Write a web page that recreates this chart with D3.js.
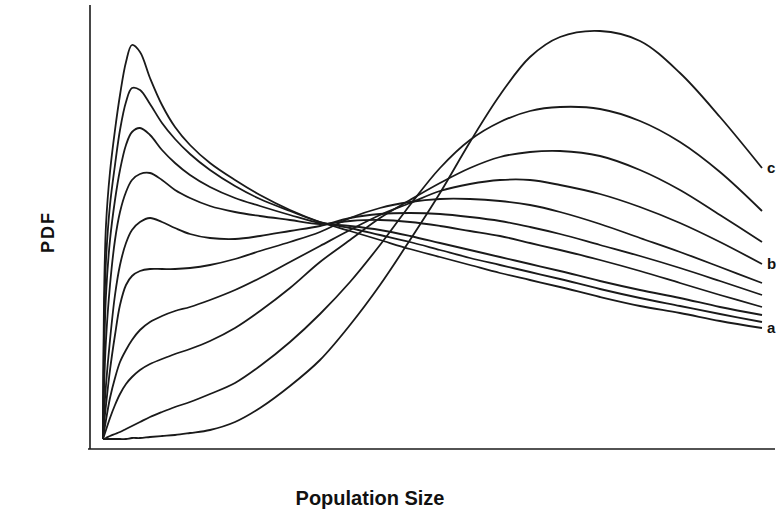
<!DOCTYPE html>
<html>
<head>
<meta charset="utf-8">
<script src="https://cdn.jsdelivr.net/npm/d3@7"></script>
<style>
  html, body { margin: 0; padding: 0; background: #fff; }
  svg { display: block; }
  .curve { fill: none; stroke: #1a1a1a; stroke-width: 1.8; }
  .axis-line { stroke: #1a1a1a; stroke-width: 1.6; }
  .title { font-family: "Liberation Sans", Arial, sans-serif; font-weight: bold; fill: #111; }
</style>
</head>
<body>
<div id="chart"></div>
<script>
// population size grid shared by every curve
const popSize = [1.3, 1.4, 1.6, 2.0, 2.5, 3.0, 3.6, 4.2, 5.0, 6.0, 7.2, 8.5, 10.0, 12.0, 14.5, 17.0,
  20.0, 23.0, 26.0, 29.0, 32.0, 35.0, 38.0, 41.0, 44.0, 47.0, 51.0, 55.0, 59.0, 63.0, 67.2];

// PDF values, from the most left-peaked curve (a) to the right-peaked one (c)
const curve1 = [0.10, 1.49, 2.24, 2.77, 3.19, 3.54, 3.87, 4.04, 3.97, 3.71, 3.44, 3.22, 3.04, 2.86, 2.69, 2.54,
  2.39, 2.27, 2.18, 2.09, 2.00, 1.92, 1.84, 1.76, 1.69, 1.62, 1.52, 1.43, 1.36, 1.28, 1.21];
const curve2 = [0.10, 1.19, 1.89, 2.44, 2.84, 3.19, 3.47, 3.61, 3.59, 3.45, 3.26, 3.10, 2.95, 2.79, 2.63, 2.50,
  2.38, 2.27, 2.21, 2.14, 2.07, 1.99, 1.91, 1.84, 1.77, 1.70, 1.60, 1.51, 1.43, 1.35, 1.27];
const curve3 = [0.10, 0.89, 1.54, 2.09, 2.49, 2.79, 3.04, 3.17, 3.21, 3.14, 2.99, 2.86, 2.74, 2.62, 2.51, 2.43,
  2.34, 2.26, 2.23, 2.19, 2.13, 2.06, 1.99, 1.92, 1.85, 1.78, 1.68, 1.59, 1.51, 1.42, 1.34];
const curve4 = [0.10, 0.59, 1.09, 1.64, 2.09, 2.37, 2.57, 2.69, 2.75, 2.76, 2.69, 2.59, 2.51, 2.43, 2.37, 2.33,
  2.29, 2.25, 2.28, 2.29, 2.27, 2.23, 2.18, 2.13, 2.06, 1.99, 1.89, 1.78, 1.66, 1.54, 1.42];
const curve5 = [0.10, 0.34, 0.64, 1.09, 1.54, 1.84, 2.06, 2.19, 2.27, 2.31, 2.27, 2.21, 2.15, 2.11, 2.10, 2.13,
  2.18, 2.23, 2.31, 2.35, 2.36, 2.35, 2.32, 2.28, 2.22, 2.15, 2.04, 1.93, 1.81, 1.68, 1.54];
const curve6 = [0.10, 0.24, 0.44, 0.79, 1.14, 1.44, 1.64, 1.73, 1.78, 1.80, 1.80, 1.80, 1.81, 1.84, 1.90, 1.98,
  2.07, 2.17, 2.31, 2.41, 2.47, 2.50, 2.50, 2.48, 2.44, 2.37, 2.25, 2.11, 1.97, 1.82, 1.66];
const curve7 = [0.10, 0.17, 0.29, 0.51, 0.71, 0.87, 0.99, 1.09, 1.19, 1.27, 1.33, 1.38, 1.42, 1.49, 1.59, 1.71,
  1.87, 2.03, 2.19, 2.34, 2.46, 2.58, 2.65, 2.69, 2.69, 2.64, 2.55, 2.42, 2.26, 2.07, 1.85];
const curve8 = [0.10, 0.13, 0.19, 0.31, 0.44, 0.55, 0.65, 0.72, 0.79, 0.85, 0.90, 0.95, 1.00, 1.08, 1.21, 1.38,
  1.61, 1.87, 2.09, 2.31, 2.49, 2.66, 2.81, 2.92, 2.97, 2.98, 2.93, 2.79, 2.59, 2.34, 2.07];
const curve9 = [0.10, 0.10, 0.11, 0.13, 0.15, 0.17, 0.20, 0.23, 0.27, 0.32, 0.37, 0.42, 0.47, 0.55, 0.66, 0.83,
  1.07, 1.35, 1.67, 2.04, 2.44, 2.81, 3.09, 3.27, 3.38, 3.42, 3.40, 3.28, 3.07, 2.77, 2.38];
const curve10 = [0.10, 0.10, 0.10, 0.10, 0.10, 0.10, 0.10, 0.11, 0.11, 0.12, 0.13, 0.14, 0.16, 0.19, 0.27, 0.41,
  0.63, 0.89, 1.24, 1.64, 2.09, 2.56, 3.07, 3.54, 3.92, 4.12, 4.18, 4.08, 3.76, 3.32, 2.81];

const curves = [curve1, curve2, curve3, curve4, curve5, curve6, curve7, curve8, curve9, curve10];

// end labels: which curve each letter sits beside
const endLabels = [
  { text: 'a', curve: 0 },
  { text: 'b', curve: 6 },
  { text: 'c', curve: 9 }
];

const xLabel = 'Population Size';
const yLabel = 'PDF';

const width = 777;
const height = 515;
const margin = { top: 5, right: 2, bottom: 66, left: 90 };

const svg = d3.select('#chart')
  .append('svg')
  .attr('width', width)
  .attr('height', height);

const x = d3.scaleLinear()
  .domain([0, 68.5])
  .range([margin.left, width - margin.right]);

const y = d3.scaleLinear()
  .domain([0, 4.44])
  .range([height - margin.bottom, margin.top]);

// axes are plain lines, no ticks
svg.append('line')
  .attr('class', 'axis-line')
  .attr('x1', x(0)).attr('x2', x(0))
  .attr('y1', y(4.44)).attr('y2', y(0));

svg.append('line')
  .attr('class', 'axis-line')
  .attr('x1', x(0) - 2).attr('x2', x(68.5))
  .attr('y1', y(0)).attr('y2', y(0));

const line = d3.line()
  .x((d, i) => x(popSize[i]))
  .y(d => y(d))
  .curve(d3.curveCatmullRom.alpha(0.5));

svg.selectAll('.curve')
  .data(curves)
  .enter().append('path')
  .attr('class', 'curve')
  .attr('d', line);

// letters sit just past the curve ends, kept inside the frame
svg.selectAll('.end-label')
  .data(endLabels)
  .enter().append('text')
  .attr('class', 'title end-label')
  .attr('x', x(popSize[popSize.length - 1]) + 5)
  .attr('y', d => y(curves[d.curve][popSize.length - 1]) + 5)
  .style('font-size', '15px')
  .text(d => d.text);

svg.append('text')
  .attr('class', 'title')
  .attr('x', 370)
  .attr('y', 505)
  .attr('text-anchor', 'middle')
  .style('font-size', '20px')
  .text(xLabel);

svg.append('text')
  .attr('class', 'title')
  .attr('transform', 'translate(54,232) rotate(-90)')
  .attr('text-anchor', 'middle')
  .style('font-size', '18px')
  .style('letter-spacing', '2px')
  .text(yLabel);
</script>
</body>
</html>
